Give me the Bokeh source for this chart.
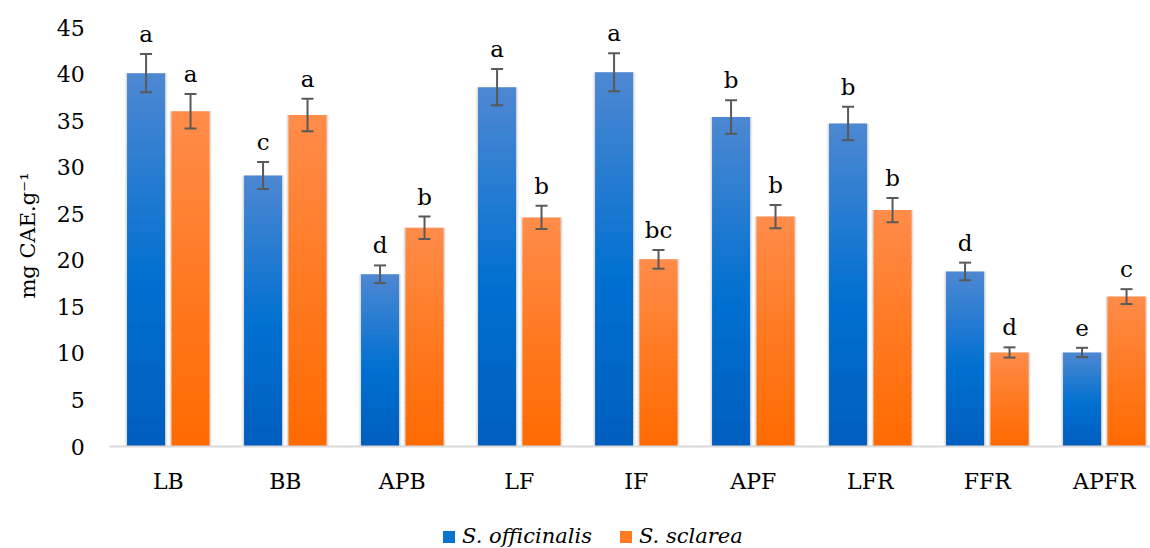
import math
from bokeh.plotting import figure
from bokeh.models import (Range1d, FixedTicker, Whisker, TeeHead, ColumnDataSource,
                          Legend, LegendItem, Label)
from bokeh.embed import file_html
from bokeh.resources import INLINE
from bokeh.core.properties import value

# ---------------- data ----------------
categories = ["LB", "BB", "APB", "LF", "IF", "APF", "LFR", "FFR", "APFR"]
officinalis = [40.1, 29.1, 18.5, 38.6, 40.2, 35.4, 34.7, 18.8, 10.1]
officinalis_err = [2.05, 1.45, 0.95, 1.95, 2.05, 1.8, 1.8, 0.95, 0.5]
officinalis_letters = ["a", "c", "d", "a", "a", "b", "b", "d", "e"]
sclarea = [36.0, 35.6, 23.5, 24.6, 20.1, 24.7, 25.4, 10.1, 16.1]
sclarea_err = [1.85, 1.75, 1.2, 1.25, 1.0, 1.25, 1.3, 0.55, 0.8]
sclarea_letters = ["a", "a", "b", "b", "bc", "b", "b", "d", "c"]
y_ticks = [0, 5, 10, 15, 20, 25, 30, 35, 40, 45]
series_names = ["S. officinalis", "S. sclarea"]
y_label = "mg CAE.g\u207b\u00b9"

# ---------------- style / layout ----------------
FONT = "DejaVu Serif"
W, H = 1150, 548
PLOT_LEFT = 109.3        # px where the category area starts
PLOT_BOTTOM = 446        # px of the value 0 line (from top)
PX_PER_CAT = 117.0
PX_PER_UNIT = 9.31
BW = 0.325
OFF = 0.19
N = 40
BLUE = [(0, 94, 190), (0, 112, 208), (78, 136, 210)]      # bottom, mid, top
ORANGE = [(255, 106, 0), (255, 122, 34), (255, 140, 74)]


def lerp(c1, c2, t):
    return tuple(int(round(a + (b - a) * t)) for a, b in zip(c1, c2))


def hexc(c):
    return "#%02x%02x%02x" % c


def grad(stops, t, mid):
    if t < mid:
        return lerp(stops[0], stops[1], t / mid)
    return lerp(stops[1], stops[2], (t - mid) / (1 - mid))


def gradient_source(vals, offset, stops, mid):
    xs, bottoms, tops, colors = [], [], [], []
    for i, v in enumerate(vals):
        for k in range(N):
            xs.append(i + offset)
            bottoms.append(v * k / N)
            tops.append(min(v, v * (k + 1) / N + 0.12))
            colors.append(hexc(grad(stops, (k + 0.5) / N, mid)))
    return ColumnDataSource(dict(x=xs, bottom=bottoms, top=tops, color=colors))


x_start = -0.5 - PLOT_LEFT / PX_PER_CAT
x_end = -0.5 + (W - PLOT_LEFT) / PX_PER_CAT
y_start = -(H - PLOT_BOTTOM) / PX_PER_UNIT
y_end = PLOT_BOTTOM / PX_PER_UNIT

p = figure(width=W, height=H, output_backend="svg", toolbar_location=None,
           x_range=Range1d(x_start, x_end), y_range=Range1d(y_start, y_end),
           min_border=0)
p.outline_line_color = None
p.grid.visible = False
p.background_fill_color = "white"
p.border_fill_color = "white"

renderers = []
for vals, errs, letters, off, stops, mid in [
        (officinalis, officinalis_err, officinalis_letters, -OFF, BLUE, 0.45),
        (sclarea, sclarea_err, sclarea_letters, OFF, ORANGE, 0.5)]:
    xs = [i + off for i in range(len(vals))]
    # soft shadow
    for extra, alpha in [(0.04, 0.06), (0.022, 0.08)]:
        p.vbar(x=xs, top=vals, bottom=0, width=BW + extra, fill_color="#000000",
               fill_alpha=alpha, line_color=None)
    src = gradient_source(vals, off, stops, mid)
    r = p.vbar(x="x", top="top", bottom="bottom", width=BW, fill_color="color",
               line_color=None, source=src)
    renderers.append(r)
    esrc = ColumnDataSource(dict(x=xs, upper=[v + e for v, e in zip(vals, errs)],
                                 lower=[v - e for v, e in zip(vals, errs)],
                                 letter=letters))
    wh = Whisker(source=esrc, base="x", upper="upper", lower="lower",
                 line_color="#595959", line_width=2, level="annotation",
                 upper_head=TeeHead(size=12, line_color="#595959", line_width=2),
                 lower_head=TeeHead(size=12, line_color="#595959", line_width=2))
    p.add_layout(wh)
    p.text(x="x", y="upper", text="letter", source=esrc, text_font=value(FONT),
           text_font_size="23px", text_align="center", text_baseline="alphabetic",
           y_offset=-20, text_color="#000000")

# x axis drawn at value 0
xa = p.xaxis[0]
xa.fixed_location = 0
xa.bounds = (-0.5, x_end)
xa.ticker = FixedTicker(ticks=list(range(len(categories))))
xa.major_label_overrides = {i: c for i, c in enumerate(categories)}
xa.axis_line_color = "#D9D9D9"
xa.axis_line_width = 2
xa.major_tick_line_color = None
xa.minor_tick_line_color = None
xa.major_tick_out = 0
xa.major_tick_in = 0
xa.major_label_standoff = 22
xa.major_label_text_font = FONT
xa.major_label_text_font_size = "22px"
xa.major_label_text_color = "#000000"

# y axis drawn at the start of the category area
ya = p.yaxis[0]
ya.fixed_location = -0.5
ya.bounds = (0, 45)
ya.ticker = FixedTicker(ticks=y_ticks)
ya.axis_line_color = None
ya.major_tick_line_color = None
ya.minor_tick_line_color = None
ya.major_tick_out = 0
ya.major_tick_in = 0
ya.major_label_standoff = 25
ya.major_label_text_font = FONT
ya.major_label_text_font_size = "22px"
ya.major_label_text_color = "#000000"

p.add_layout(Label(x=27, y=H - 235, x_units="screen", y_units="screen", text=y_label,
                   angle=math.pi / 2, text_align="center", text_baseline="middle",
                   text_font=FONT, text_font_size="21px", text_color="#000000"))

legend = Legend(items=[LegendItem(label=series_names[0], renderers=[renderers[0]], index=N // 2),
                       LegendItem(label=series_names[1], renderers=[renderers[1]], index=N // 2)],
                orientation="horizontal", location=(441, 0),
                glyph_width=15, glyph_height=15, label_standoff=6, spacing=26,
                padding=0, margin=0, border_line_color=None, background_fill_alpha=0,
                label_text_font=FONT, label_text_font_style="italic",
                label_text_font_size="21px", label_text_color="#000000")
p.add_layout(legend)

open("out.html", "w").write(file_html(p, INLINE))
